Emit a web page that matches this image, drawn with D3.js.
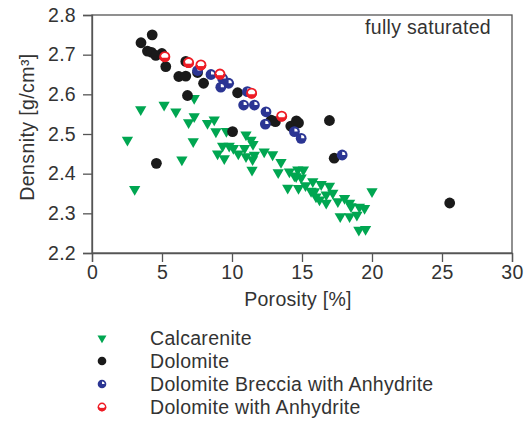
<!DOCTYPE html>
<html>
<head>
<meta charset="utf-8">
<script src="https://cdn.jsdelivr.net/npm/d3@7"></script>
<style>
  body { margin: 0; background: #fff; }
  svg text { font-family: "Liberation Sans", Arial, sans-serif; fill: #333; }
</style>
</head>
<body>
<svg width="528" height="421"></svg>
<script>
// porosity [%], density [g/cm3]
const calcarenite = [
  [3.48, 2.562], [5.15, 2.573], [5.99, 2.556], [7.3, 2.59], [7.3, 2.544],
  [6.9, 2.529], [8.25, 2.527], [8.73, 2.536], [8.85, 2.506], [2.53, 2.485],
  [7.23, 2.481], [6.42, 2.435], [3.05, 2.361], [9.6, 2.507], [11.0, 2.498],
  [11.36, 2.485], [11.5, 2.474], [9.33, 2.47], [9.8, 2.47], [10.1, 2.464],
  [8.97, 2.45], [9.45, 2.438], [10.45, 2.45], [10.9, 2.464], [11.0, 2.443],
  [11.6, 2.447], [11.47, 2.436], [12.3, 2.455], [12.9, 2.448], [11.43, 2.409],
  [13.5, 2.429], [13.3, 2.403], [14.1, 2.405], [14.7, 2.41], [15.1, 2.41],
  [14.46, 2.395], [14.94, 2.39], [14.58, 2.393], [13.98, 2.364], [14.75, 2.363],
  [15.25, 2.37], [15.65, 2.356], [15.77, 2.38], [16.37, 2.373], [16.96, 2.369],
  [15.89, 2.355], [16.0, 2.342], [16.25, 2.334], [16.73, 2.347], [17.2, 2.351],
  [17.56, 2.33], [18.04, 2.338], [18.4, 2.326], [16.73, 2.326], [17.73, 2.292],
  [18.5, 2.317], [19.1, 2.316], [19.47, 2.313], [18.92, 2.296], [18.4, 2.292],
  [19.06, 2.258], [19.54, 2.26], [20.0, 2.355]
];
const dolomite = [
  [4.3, 2.75], [3.5, 2.73], [3.96, 2.709], [4.25, 2.706], [4.56, 2.698],
  [4.99, 2.703], [5.27, 2.67], [6.2, 2.645], [6.7, 2.646], [6.7, 2.683],
  [6.82, 2.597], [7.54, 2.655], [7.97, 2.628], [10.4, 2.604], [10.04, 2.506],
  [4.6, 2.426], [12.8, 2.535], [13.1, 2.531], [14.2, 2.52], [14.6, 2.533],
  [14.75, 2.528], [16.96, 2.534], [17.3, 2.439], [25.55, 2.326]
];
const breccia = [
  [7.54, 2.66], [8.5, 2.65], [9.33, 2.64], [9.76, 2.628], [9.2, 2.618],
  [11.1, 2.607], [10.83, 2.573], [11.6, 2.573], [12.43, 2.556], [12.38, 2.525],
  [14.46, 2.506], [14.94, 2.489], [17.87, 2.447]
];
const anhydrite = [
  [5.2, 2.695], [6.9, 2.68], [7.78, 2.674], [9.14, 2.651], [11.4, 2.603], [13.55, 2.545]
];
const xTicks = [0, 5, 10, 15, 20, 25, 30];
const yTicks = [2.2, 2.3, 2.4, 2.5, 2.6, 2.7, 2.8];
const legendLabels = ["Calcarenite", "Dolomite", "Dolomite Breccia with Anhydrite", "Dolomite with Anhydrite"];

const svg = d3.select("svg");
const green = "#00a651", blue = "#2b3593", red = "#ee1c25";
const fs = "19.5px";

const x = d3.scaleLinear().domain([0, 30]).range([92, 512]);
const y = d3.scaleLinear().domain([2.2, 2.8]).range([253, 15]);

// frame
svg.append("rect")
  .attr("x", x(0)).attr("y", y(2.8))
  .attr("width", x(30) - x(0)).attr("height", y(2.2) - y(2.8))
  .attr("fill", "none").attr("stroke", "#555").attr("stroke-width", 1.3);

const xAxis = svg.append("g")
  .attr("transform", `translate(0,${y(2.2)})`)
  .call(d3.axisBottom(x).tickValues(xTicks).tickSize(9).tickPadding(3).tickFormat(d3.format("d")));
const yAxis = svg.append("g")
  .attr("transform", `translate(${x(0)},0)`)
  .call(d3.axisLeft(y).tickValues(yTicks).tickSize(9).tickPadding(7).tickFormat(d3.format(".1f")));
[xAxis, yAxis].forEach(a => {
  a.select(".domain").attr("stroke", "#555").attr("stroke-width", 1.3);
  a.selectAll(".tick line").attr("stroke", "#555").attr("stroke-width", 1.3);
  a.selectAll(".tick text").style("font-size", fs).style("letter-spacing", "0.3px").attr("fill", "#333");
});

svg.append("text").attr("x", 298).attr("y", 306)
  .attr("text-anchor", "middle").style("font-size", fs).style("letter-spacing", "0.3px").text("Porosity [%]");
svg.append("text")
  .attr("transform", "translate(34,127) rotate(-90)")
  .attr("text-anchor", "middle").style("font-size", fs).style("letter-spacing", "0.4px")
  .text("Densnity [g/cm³]");
svg.append("text").attr("x", 491).attr("y", 34)
  .attr("text-anchor", "end").style("font-size", fs).style("letter-spacing", "0.3px").text("fully saturated");

// marker drawers
const tri = d3.symbol().type(d3.symbolTriangle).size(55);
const r = 5.4;
const arc = d3.arc();

function drawCalc(g) {
  g.append("path").attr("d", tri).attr("transform", "rotate(180)").attr("fill", green);
}
function drawDol(g) {
  g.append("circle").attr("r", r).attr("fill", "#1a1a1a");
}
function drawBreccia(g) {
  g.append("circle").attr("r", r).attr("fill", blue);
  g.append("path")
    .attr("d", arc({ innerRadius: 0, outerRadius: r * 0.6, startAngle: 0, endAngle: Math.PI / 2 }))
    .attr("fill", "#fff");
}
function drawAnh(g) {
  g.append("circle").attr("r", r - 0.8).attr("fill", "#fff").attr("stroke", red).attr("stroke-width", 1.8);
  g.append("path")
    .attr("d", arc({ innerRadius: 0, outerRadius: r, startAngle: Math.PI / 2, endAngle: Math.PI * 1.5 }))
    .attr("fill", red);
  g.append("rect").attr("x", -r * 0.55).attr("y", -r * 0.35).attr("width", r * 1.1).attr("height", r * 0.55).attr("fill", "#fff");
}

const series = [
  { data: calcarenite, draw: drawCalc },
  { data: dolomite, draw: drawDol },
  { data: breccia, draw: drawBreccia },
  { data: anhydrite, draw: drawAnh }
];

series.forEach(s => {
  svg.append("g").selectAll("g")
    .data(s.data)
    .enter()
    .append("g")
    .attr("transform", d => `translate(${x(d[0])},${y(d[1])})`)
    .each(function () { s.draw(d3.select(this)); });
});

// legend
const legendY = [338, 361, 384, 407];
const legend = svg.append("g").selectAll("g")
  .data(legendLabels)
  .enter()
  .append("g")
  .attr("transform", (_d, _i) => `translate(102,${legendY[_i]})`);

legend.each(function (_d, _i) {
  const g = d3.select(this).append("g").attr("transform", "scale(0.8)");
  series[_i].draw(g);
});
legend.append("text")
  .attr("x", 48).attr("y", 7)
  .style("font-size", fs).style("letter-spacing", "0.3px")
  .text(d => d);
</script>
</body>
</html>
